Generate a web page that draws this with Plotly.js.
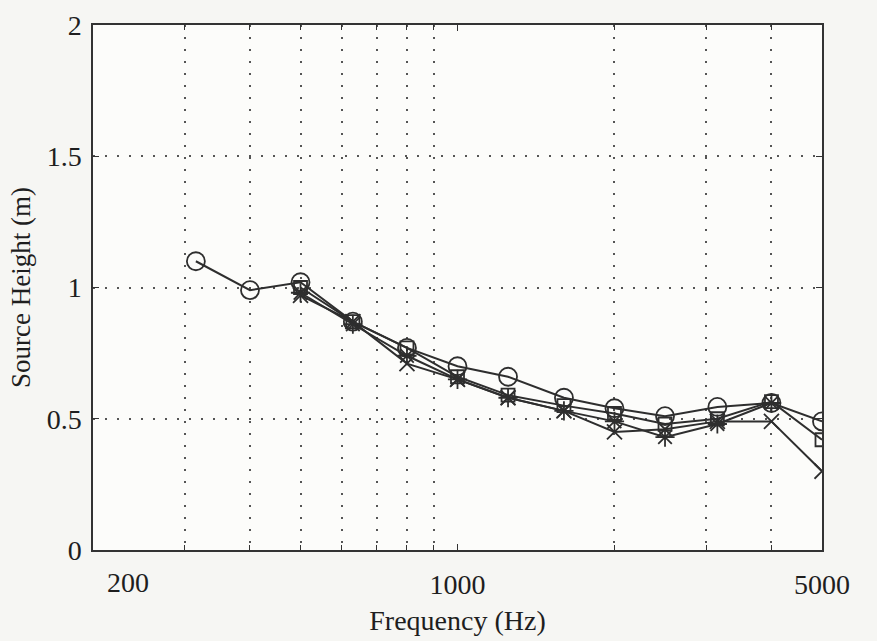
<!DOCTYPE html>
<html>
<head>
<meta charset="utf-8">
<script src="https://cdn.plot.ly/plotly-3.0.1.min.js"></script>
<style>html,body{margin:0;padding:0;background:#f6f6f3;}#chart{width:877px;height:641px;}</style>
</head>
<body>
<div id="chart"></div>
<script>
// One-third octave band centre frequencies (Hz)
var freqCircle = [315, 400, 500, 630, 800, 1000, 1250, 1600, 2000, 2500, 3150, 4000, 5000];
var heightCircle = [1.10, 0.99, 1.02, 0.87, 0.77, 0.70, 0.66, 0.58, 0.54, 0.51, 0.545, 0.56, 0.49];

var freqSquare = [500, 630, 800, 1000, 1250, 1600, 2000, 2500, 3150, 4000, 5000];
var heightSquare = [1.00, 0.87, 0.77, 0.66, 0.59, 0.55, 0.52, 0.48, 0.50, 0.565, 0.42];

var freqStar = [500, 630, 800, 1000, 1250, 1600, 2000, 2500, 3150, 4000];
var heightStar = [0.98, 0.86, 0.74, 0.65, 0.58, 0.53, 0.49, 0.43, 0.48, 0.56];

var freqX = [500, 630, 800, 1000, 1250, 1600, 2000, 2500, 3150, 4000, 5000];
var heightX = [0.97, 0.87, 0.71, 0.65, 0.58, 0.53, 0.45, 0.46, 0.49, 0.49, 0.30];

var xTickVals = [200, 1000, 5000];
var xTickText = ['200', '1000', '5000'];
var xMinorVals = [300, 400, 500, 600, 700, 800, 900, 2000, 3000, 4000];
var yTickVals = [0, 0.5, 1, 1.5, 2];
var yTickText = ['0', '0.5', '1', '1.5', '2'];

var lineCol = '#2e2e2e';
var FAM = 'Liberation Serif';
function mkFont(sz) { return {family: FAM, size: sz, color: '#1e1e1e'}; }

function series(x, y, sym, size) {
  return {
    x: x, y: y, type: 'scatter', mode: 'lines+markers',
    line: {color: lineCol, width: 2},
    marker: {symbol: sym, size: size, color: lineCol, line: {color: lineCol, width: 1.8}},
    showlegend: false, hoverinfo: 'skip'
  };
}
var data = [
  series(freqX, heightX, 'x-thin-open', 15),
  series(freqStar, heightStar, 'asterisk-open', 16),
  series(freqSquare, heightSquare, 'square-open', 13),
  series(freqCircle, heightCircle, 'circle-open', 18)
];

// first x label is moved right off the corner, as in the original figure
var shownText = xTickText.slice();
shownText[0] = '';

var layout = {
  width: 877, height: 641,
  margin: {l: 93, r: 55, t: 25, b: 91},
  paper_bgcolor: '#f6f6f3',
  plot_bgcolor: '#fcfcfa',
  font: mkFont(28),
  xaxis: {
    type: 'log', automargin: false,
    range: [Math.log10(200), Math.log10(5000)],
    tickmode: 'array', tickvals: xTickVals, ticktext: shownText,
    ticks: 'inside', ticklen: 6, tickcolor: '#333',
    ticklabelstandoff: 9,
    showgrid: false,
    showline: true, linecolor: '#333', linewidth: 1.6, mirror: 'ticks',
    zeroline: false,
    minor: {tickmode: 'array', tickvals: xMinorVals, ticks: 'inside', ticklen: 5, tickcolor: '#333',
            showgrid: true, gridcolor: '#555', griddash: '2px,10px', gridwidth: 2},
    title: {text: 'Frequency (Hz)', font: mkFont(28), standoff: 11},
    tickfont: mkFont(28)
  },
  yaxis: {
    automargin: false,
    range: [0, 2],
    tickmode: 'array', tickvals: yTickVals, ticktext: yTickText,
    ticks: 'inside', ticklen: 6, tickcolor: '#333',
    ticklabelstandoff: 4,
    showgrid: true, gridcolor: '#555', griddash: '2px,10px', gridwidth: 2,
    showline: true, linecolor: '#333', linewidth: 1.6, mirror: 'ticks',
    zeroline: false,
    title: {text: 'Source Height (m)', font: mkFont(27), standoff: 8},
    tickfont: mkFont(28)
  },
  annotations: [{
    x: Math.log10(xTickVals[0]), xref: 'x', y: 0, yref: 'paper',
    text: xTickText[0], showarrow: false,
    xanchor: 'center', yanchor: 'top', xshift: 35, yshift: -15,
    font: mkFont(28)
  }]
};
Plotly.newPlot('chart', data, layout, {displayModeBar: false, staticPlot: true});
</script>
</body>
</html>
